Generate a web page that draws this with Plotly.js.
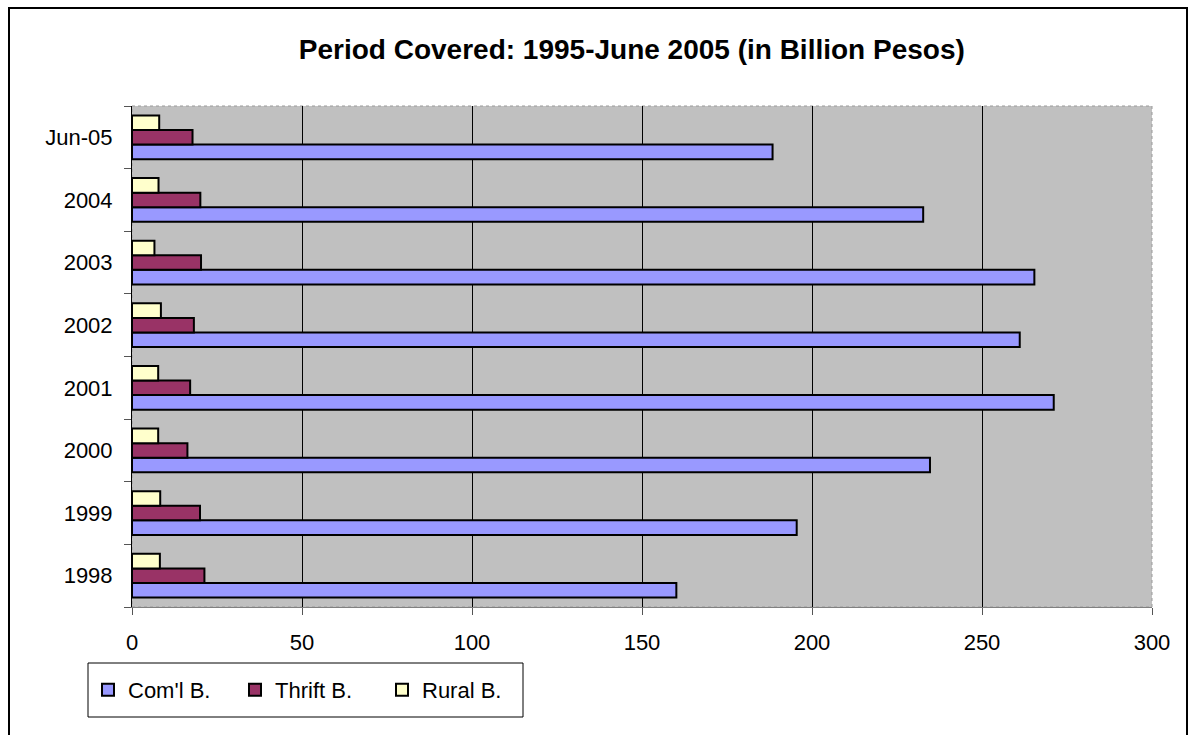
<!DOCTYPE html>
<html>
<head>
<meta charset="utf-8">
<script src="https://cdn.plot.ly/plotly-3.0.1.min.js"></script>
<style>
  html, body { margin: 0; padding: 0; background: #fff; overflow: hidden; }
  #chart { width: 1188px; height: 735px; }
  #frame {
    position: absolute; left: 8px; top: 7px; right: 0; bottom: -10px;
    border: 2px solid #000; pointer-events: none;
  }
</style>
</head>
<body>
<div id="chart"></div>
<div id="frame"></div>
<script>
// Period categories, bottom to top
const periods = ['1998', '1999', '2000', '2001', '2002', '2003', '2004', 'Jun-05'];

// Values in billion pesos
const comlBanks   = [160.1, 195.5, 234.7, 271.1, 261.1, 265.4, 232.7, 188.4];
const thriftBanks = [21.3, 20.0, 16.3, 17.1, 18.2, 20.3, 20.1, 17.8];
const ruralBanks  = [8.2, 8.3, 7.7, 7.7, 8.5, 6.6, 7.8, 8.0];

const seriesNames = ["Com'l B.", 'Thrift B.', 'Rural B.'];
const xTicks = [0, 50, 100, 150, 200, 250, 300];

const FONT = 'Liberation Sans, Arial, sans-serif';

// plot area size in px, used to place the legend box in paper units
const PLOT_W = 1020, PLOT_H = 501;

function barTrace(name, values, color) {
  return {
    type: 'bar',
    orientation: 'h',
    name: name,
    y: periods,
    x: values,
    marker: { color: color, line: { color: '#000', width: 2 } },
    hoverinfo: 'x+name'
  };
}

const data = [
  barTrace(seriesNames[0], comlBanks, '#9999FF'),
  barTrace(seriesNames[1], thriftBanks, '#993366'),
  barTrace(seriesNames[2], ruralBanks, '#FFFFCC')
];

const layout = {
  width: 1188,
  height: 735,
  margin: { l: 132, r: 36, t: 106, b: 128 },
  paper_bgcolor: '#ffffff',
  plot_bgcolor: '#C0C0C0',
  font: { family: FONT, color: '#000', size: 22 },
  title: {
    text: '<b>Period Covered: 1995-June 2005 (in Billion Pesos)</b>',
    font: { family: FONT, size: 28, color: '#000' },
    xref: 'paper', x: 0.49, xanchor: 'center',
    yref: 'container', y: 0.933, yanchor: 'middle'
  },
  barmode: 'group',
  bargap: 0.3,
  bargroupgap: 0,
  xaxis: {
    range: [0, 300],
    tickvals: xTicks,
    ticktext: xTicks.map(String),
    showgrid: true,
    gridcolor: '#000',
    gridwidth: 1,
    zeroline: false,
    showline: true,
    linecolor: '#808080',
    linewidth: 1,
    ticks: 'outside',
    ticklen: 7,
    tickcolor: '#555',
    tickfont: { family: FONT, size: 22, color: '#000' },
    ticklabelstandoff: 9,
    fixedrange: true
  },
  yaxis: {
    type: 'category',
    categoryorder: 'array',
    categoryarray: periods,
    showgrid: false,
    zeroline: false,
    showline: true,
    linecolor: '#000',
    linewidth: 1,
    ticks: 'outside',
    tickson: 'boundaries',
    ticklen: 7,
    tickcolor: '#555',
    tickfont: { family: FONT, size: 22, color: '#000' },
    ticklabelstandoff: 14,
    fixedrange: true
  },
  shapes: [
    // dotted plot-area border
    {
      type: 'rect', xref: 'paper', yref: 'paper',
      x0: 0, x1: 1, y0: 0, y1: 1,
      line: { color: '#9a9a9a', width: 1, dash: 'dot' },
      layer: 'below'
    },
    // legend box
    {
      type: 'rect', xref: 'paper', yref: 'paper',
      x0: -44 / PLOT_W, x1: 391 / PLOT_W,
      y0: -110 / PLOT_H, y1: -56 / PLOT_H,
      line: { color: '#000', width: 1 },
      fillcolor: '#fff',
      layer: 'above'
    }
  ],
  legend: {
    orientation: 'h',
    xref: 'paper', yref: 'paper',
    x: -44 / PLOT_W, xanchor: 'left',
    y: -83 / PLOT_H, yanchor: 'middle',
    bgcolor: 'rgba(0,0,0,0)',
    borderwidth: 0,
    font: { family: FONT, size: 22, color: '#000' },
    traceorder: 'normal',
    itemwidth: 30,
    entrywidth: 102,
    itemclick: false,
    itemdoubleclick: false
  },
  showlegend: true
};

Plotly.newPlot('chart', data, layout, { displayModeBar: false, staticPlot: true });
</script>
</body>
</html>
